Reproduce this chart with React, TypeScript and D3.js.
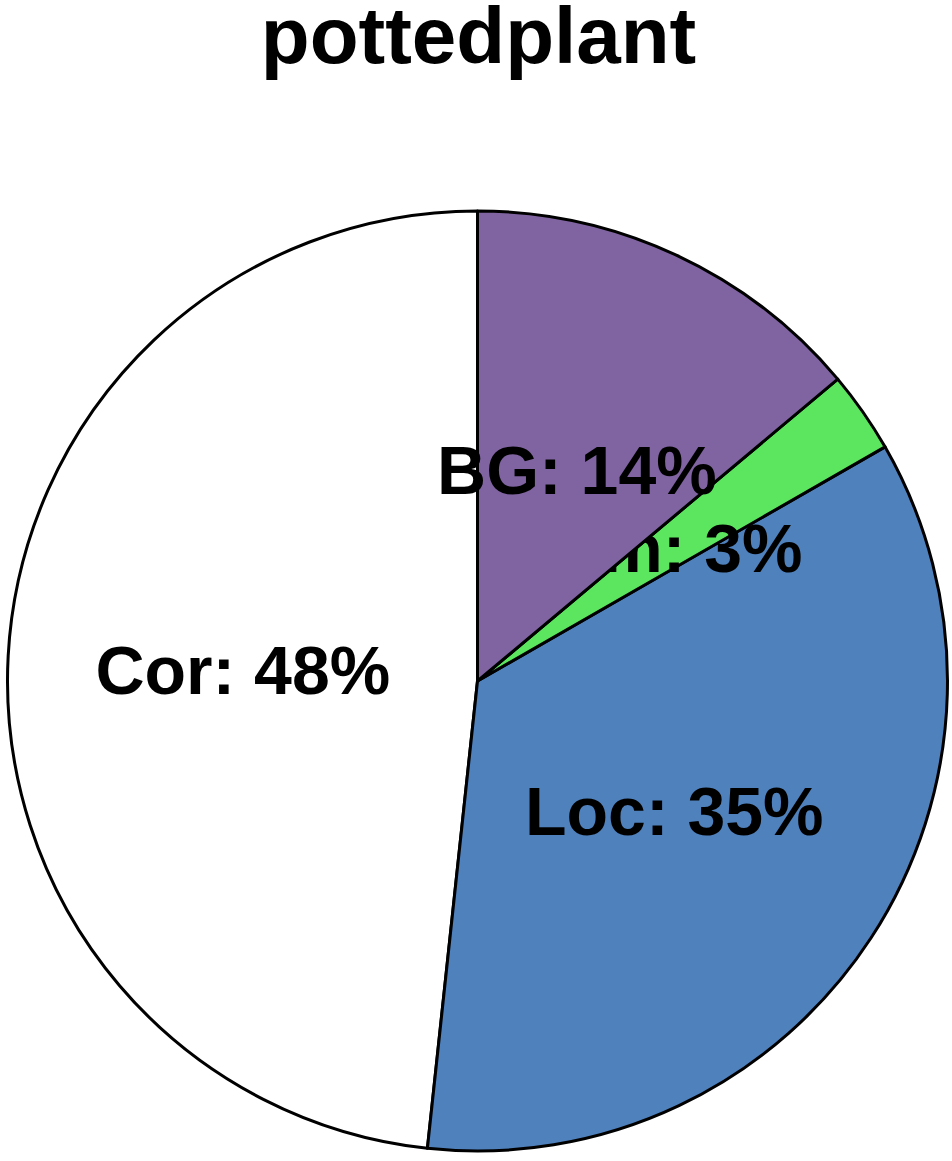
import React from 'react';
import * as d3 from 'd3';

const title = 'pottedplant';
const categories = ['BG', 'Sim', 'Loc', 'Cor'];
const shares = [13.9, 2.8, 35.0, 48.3];
const sliceColors = ['#8064a2', '#5ce65f', '#4f81bd', '#ffffff'];

const width = 952;
const height = 1161;
const cx = 477.5;
const cy = 681;
const radius = 470;

const App = () => {
  const pie = d3
    .pie<number>()
    .sort(null)
    .startAngle(0)
    .endAngle(2 * Math.PI);
  const arcs = pie(shares);

  const arc = d3.arc<d3.PieArcDatum<number>>().innerRadius(0).outerRadius(radius);
  const labelArc = d3
    .arc<d3.PieArcDatum<number>>()
    .innerRadius(radius * 0.5)
    .outerRadius(radius * 0.5);

  // drawn last-to-first, each slice followed by its label (so the BG wedge covers part of the Sim label)
  const order = d3.range(arcs.length).reverse();

  return (
    <svg
      width={width}
      height={height}
      style={{ position: 'absolute', left: 0, top: 0, background: '#fff' }}
      fontFamily="'Liberation Sans', Arial, Helvetica, sans-serif"
      fontWeight="bold"
    >
      <text x={cx + 1} y={63} textAnchor="middle" fontSize={80}>
        {title}
      </text>
      <g transform={`translate(${cx},${cy})`}>
        {order.map((i) => {
          const a = arcs[i];
          const [lx, ly] = labelArc.centroid(a);
          return (
            <g key={categories[i]}>
              <path
                d={arc(a) || ''}
                fill={sliceColors[i]}
                stroke="#000"
                strokeWidth={3}
                strokeLinejoin="round"
              />
              <text x={lx} y={ly} dy="0.38em" textAnchor="middle" fontSize={68}>
                {`${categories[i]}: ${Math.round(shares[i])}%`}
              </text>
            </g>
          );
        })}
      </g>
    </svg>
  );
};

export default App;
